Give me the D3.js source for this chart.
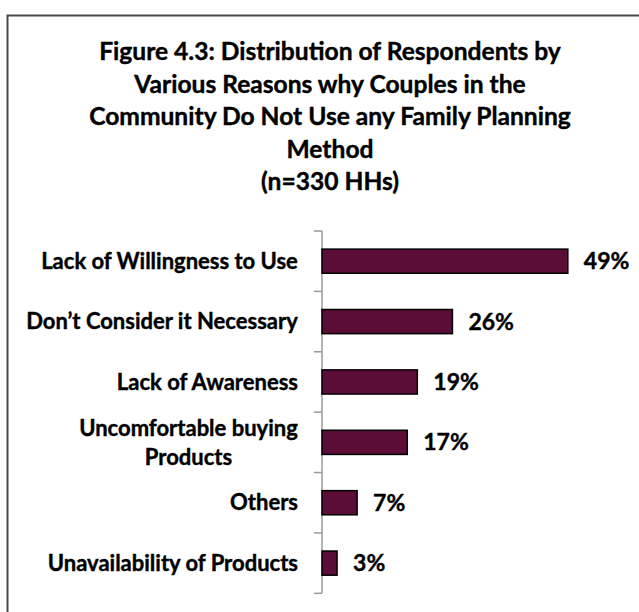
<!DOCTYPE html>
<html>
<head>
<meta charset="utf-8">
<script src="https://cdn.jsdelivr.net/npm/d3@7"></script>
<style>
  html, body { margin: 0; padding: 0; background: #fff; }
  svg { display: block; }
  text { font-family: Lato, "Open Sans", sans-serif; font-weight: bold; fill: #000;
         stroke: #000; stroke-width: 0.4px; }
</style>
</head>
<body>
<svg id="chart" width="639" height="612"></svg>
<script>
// Reasons couples give for not using family planning (share of households)
const categories = [
  ["Lack of Willingness to Use"],
  ["Don\u2019t Consider it Necessary"],
  ["Lack of Awareness"],
  ["Uncomfortable buying", "Products"],
  ["Others"],
  ["Unavailability of Products"]
];
const values = [0.49, 0.26, 0.19, 0.17, 0.07, 0.03];
const titleLines = [
  "Figure 4.3: Distribution of Respondents by",
  "Various Reasons why Couples in the",
  "Community Do Not Use any Family Planning",
  "Method",
  "(n=330 HHs)"
];

const svg = d3.select("#chart");
const fontSize = 22;

// chart frame (left and top edges fall inside the canvas)
svg.append("path")
  .attr("d", "M7.5,640 L7.5,15.5 L645,15.5")
  .attr("fill", "none")
  .attr("stroke", "#4a4a4a")
  .attr("stroke-width", 2);

// title
svg.append("g")
  .selectAll("text")
  .data(titleLines)
  .join("text")
  .attr("x", 330)
  .attr("y", (d, i) => 60 + i * 32.6)
  .attr("text-anchor", "middle")
  .style("font-size", "24.6px")
  .text(d => d);

const keys = categories.map(d => d.join(" "));

const x = d3.scaleLinear().domain([0, 0.6]).range([322, 623]);
const y = d3.scaleBand()
  .domain(keys)
  .range([231, 593.3])
  .paddingInner(0.6)
  .paddingOuter(0.3);

// category axis: vertical line with ticks at band boundaries
const axis = svg.append("g").attr("class", "y-axis");
axis.append("line")
  .attr("x1", x(0)).attr("x2", x(0))
  .attr("y1", y.range()[0]).attr("y2", y.range()[1])
  .attr("stroke", "#9a9a9a").attr("stroke-width", 1.5);
const boundaries = keys.map(k => y(k) - y.step() * y.paddingOuter())
  .concat([y.range()[1]]);
axis.selectAll("line.tick")
  .data(boundaries)
  .join("line")
  .attr("class", "tick")
  .attr("x1", x(0) - 8).attr("x2", x(0))
  .attr("y1", d => d).attr("y2", d => d)
  .attr("stroke", "#9a9a9a").attr("stroke-width", 1.5);

// category labels, multi-line labels centred on each other
const labels = svg.append("g");
categories.forEach((lines, i) => {
  const cy = y(keys[i]) + y.bandwidth() / 2;
  const lh = 29;
  const g = labels.append("text")
    .attr("text-anchor", "middle")
    .style("font-size", fontSize + "px");
  lines.forEach((ln, j) => {
    g.append("tspan")
      .attr("x", 0)
      .attr("y", cy + (j - (lines.length - 1) / 2) * lh)
      .attr("dy", "0.35em")
      .text(ln);
  });
  // right-align the whole block against the axis
  const w = g.node().getBBox().width;
  g.selectAll("tspan").attr("x", 298 - w / 2);
});

// bars
svg.append("g")
  .selectAll("rect")
  .data(values)
  .join("rect")
  .attr("x", x(0))
  .attr("y", (d, i) => y(keys[i]))
  .attr("width", d => x(d) - x(0))
  .attr("height", y.bandwidth())
  .attr("fill", "#5c0d37")
  .attr("stroke", "#000")
  .attr("stroke-width", 1.5);

// value labels
svg.append("g")
  .selectAll("text")
  .data(values)
  .join("text")
  .attr("x", d => x(d) + 16)
  .attr("y", (d, i) => y(keys[i]) + y.bandwidth() / 2)
  .attr("dy", "0.35em")
  .style("font-size", "23px")
  .text(d => d3.format(".0%")(d));
</script>
</body>
</html>
